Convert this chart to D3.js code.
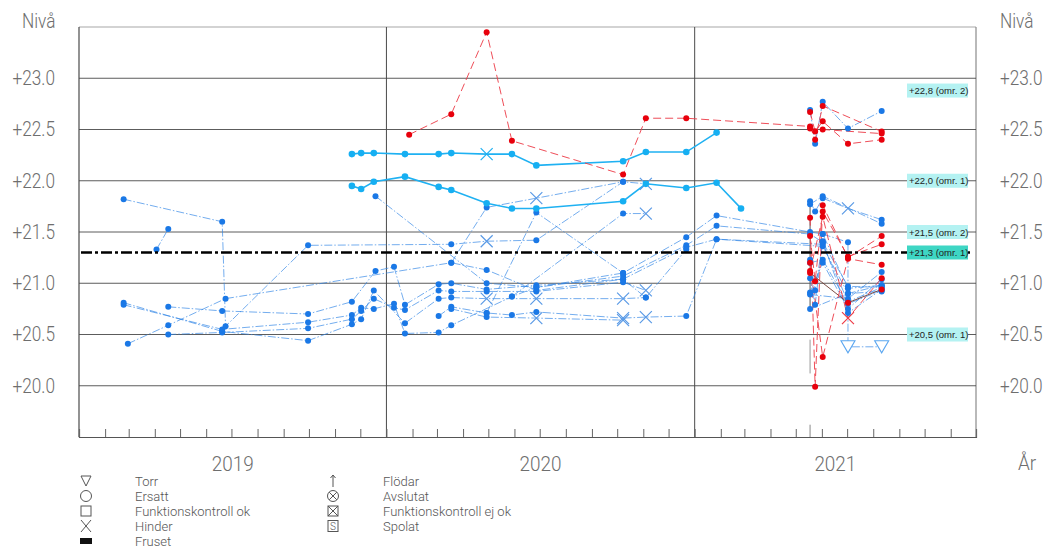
<!DOCTYPE html>
<html>
<head>
<meta charset="utf-8">
<script src="https://cdn.jsdelivr.net/npm/d3@7"></script>
<style>
  body { margin: 0; background: #fff; }
  svg { display: block; }
  text { font-family: Roboto, "DejaVu Sans Condensed", sans-serif; font-weight: 300; }
</style>
</head>
<body>
<div id="chart"></div>
<script>
// nivåer (m) per mätpunkt, [datum, nivå, status]  status: "x" = hinder, "t" = torr
var cyanTop = [["2019-11-21",22.26],["2019-12-02",22.27],["2019-12-17",22.27],["2020-01-23",22.26],["2020-03-03",22.26],["2020-03-18",22.27],["2020-04-29",22.26,"x"],["2020-05-29",22.26],["2020-06-27",22.15],["2020-10-08",22.19],["2020-11-04",22.28],["2020-12-22",22.28],["2021-01-27",22.47]];
var cyanMid = [["2019-11-21",21.95],["2019-12-02",21.92],["2019-12-17",21.99],["2020-01-23",22.04],["2020-03-03",21.94],["2020-03-18",21.91],["2020-04-29",21.78],["2020-05-29",21.73],["2020-06-27",21.73],["2020-10-08",21.80],["2020-11-04",21.97],["2020-12-22",21.93],["2021-01-27",21.98],["2021-02-25",21.73]];

var redMain = [["2020-01-28",22.45],["2020-03-18",22.65],["2020-04-29",23.45],["2020-05-29",22.39],["2020-10-08",22.06],["2020-11-04",22.61],["2020-12-22",22.61],["2021-05-18",22.53],["2021-05-24",22.40],["2021-06-02",22.73],["2021-08-11",22.48]];
var redB = [["2021-05-18",22.67],["2021-05-24",22.48],["2021-06-02",22.58],["2021-07-02",22.36],["2021-08-11",22.40]];
var redC = [["2021-05-18",22.51],["2021-06-02",22.50],["2021-08-11",22.46]];
var redD = [["2021-05-18",21.64],["2021-05-24",19.99],["2021-06-02",21.76],["2021-07-02",21.25],["2021-08-11",21.46]];
var redE = [["2021-05-18",21.46],["2021-05-24",21.02],["2021-06-02",21.70],["2021-07-02",21.26],["2021-08-11",21.38]];
var redF = [["2021-05-18",21.20],["2021-06-02",20.28],["2021-07-02",21.24],["2021-08-11",21.18]];
var redG = [["2021-05-18",21.12],["2021-06-02",21.65],["2021-07-02",20.66,"x"],["2021-08-11",21.05]];
var brownA = [["2021-05-18",21.10],["2021-07-02",20.81],["2021-08-11",20.94]];

var blueD = [["2019-02-23",21.82],["2019-06-20",21.60],["2019-06-24",20.58],["2019-09-30",21.37],["2020-03-18",21.38],["2020-04-29",21.41,"x"],["2020-06-27",21.42],["2020-10-08",21.99],["2020-11-04",21.97,"x"]];
var blueE = [["2019-04-03",21.33],["2019-04-17",21.53]];
var blueF = [["2019-02-28",20.41],["2019-04-17",20.59],["2019-06-24",20.85],["2020-03-18",21.20],["2020-04-29",21.13],["2020-06-27",20.93],["2020-10-08",21.04],["2020-12-22",21.35],["2021-01-27",21.43],["2021-06-02",21.36],["2021-07-02",20.90],["2021-08-11",20.92]];
var blueG = [["2019-02-23",20.81],["2019-06-20",20.53],["2019-09-30",20.44],["2019-11-21",20.60],["2019-12-02",20.65],["2019-12-17",20.93],["2020-01-23",20.61],["2020-03-03",20.85],["2020-03-18",20.86],["2020-04-29",20.85,"x"],["2020-06-27",20.85,"x"],["2020-10-08",20.85,"x"],["2020-11-04",20.86]];
var blueH = [["2019-02-23",20.79],["2019-06-20",20.55],["2019-09-30",20.62],["2019-11-21",20.69],["2019-12-02",20.76],["2019-12-17",20.75],["2020-01-10",20.80],["2020-01-23",20.51],["2020-03-03",20.52],["2020-03-18",20.59],["2020-05-29",20.87],["2020-06-27",20.96],["2020-10-08",21.07],["2020-12-22",21.37],["2021-01-27",21.56],["2021-05-18",21.48],["2021-06-02",21.40]];
var blueJ = [["2019-04-17",20.77],["2019-06-20",20.73],["2019-09-30",20.70],["2019-11-21",20.82],["2019-12-19",21.12],["2020-01-10",21.16],["2020-01-23",20.79],["2020-03-03",20.99],["2020-03-18",21.00],["2020-04-29",20.94],["2020-06-27",20.98],["2020-10-08",21.04],["2020-11-04",20.86],["2020-12-22",21.33]];
var blueT = [["2019-04-17",20.50],["2019-06-20",20.52],["2019-09-30",20.56],["2019-11-21",20.65],["2019-12-02",20.73],["2019-12-17",20.85],["2020-01-10",20.76],["2020-01-23",20.74],["2020-03-03",20.93],["2020-03-18",20.92],["2020-04-29",20.92],["2020-06-27",20.92],["2020-10-08",21.01],["2020-11-04",20.93,"x"]];
var blueP = [["2019-12-19",21.85],["2020-04-29",21.00],["2020-06-27",20.96],["2020-10-08",21.10],["2020-12-22",21.45],["2021-01-27",21.66],["2021-05-18",21.50],["2021-06-02",21.48],["2021-07-02",20.95],["2021-08-11",20.98]];
var blueQ = [["2020-03-18",21.20],["2020-04-29",21.74],["2020-06-27",21.83,"x"],["2020-10-08",21.99]];
var blueR = [["2020-04-29",20.71],["2020-06-27",21.69],["2020-10-08",21.10]];
var blueS = [["2020-05-29",20.87],["2020-10-08",21.68],["2020-11-04",21.68,"x"]];
var blueL5 = [["2020-03-03",20.68],["2020-03-18",20.77],["2020-04-29",20.71],["2020-05-29",20.69],["2020-06-27",20.72],["2020-10-08",20.66,"x"],["2020-11-04",20.67,"x"],["2020-12-22",20.68],["2021-01-27",21.43],["2021-06-02",21.38],["2021-07-02",20.82],["2021-08-11",20.96]];
var blueL6 = [["2020-03-18",20.75],["2020-04-29",20.67],["2020-06-27",20.66,"x"],["2020-10-08",20.64,"x"]];

var blue21a = [["2021-05-18",22.69],["2021-05-24",22.36],["2021-06-02",22.77],["2021-07-02",22.51],["2021-08-11",22.68]];
var blue21b = [["2021-05-18",21.80],["2021-05-24",21.70],["2021-06-02",21.83],["2021-07-02",21.73,"x"],["2021-08-11",21.62]];
var blue21c = [["2021-05-18",21.77],["2021-06-02",21.85],["2021-08-11",21.58]];
var blue21d = [["2021-05-18",21.23],["2021-05-24",20.93],["2021-06-02",21.40],["2021-07-02",20.97],["2021-08-11",20.96]];
var blue21e = [["2021-05-18",21.20],["2021-06-02",21.23],["2021-07-02",20.80],["2021-08-11",20.93]];
var blue21f = [["2021-05-18",21.05],["2021-05-24",20.79],["2021-06-02",21.41],["2021-07-02",20.71],["2021-08-11",20.94]];
var blue21g = [["2021-05-18",20.91],["2021-06-02",21.20],["2021-07-02",20.75],["2021-08-11",21.04]];
var blue21h = [["2021-05-18",20.89],["2021-07-02",20.85],["2021-08-11",21.11]];
var blue21i = [["2021-05-18",20.75],["2021-07-02",20.90],["2021-08-11",20.98]];
var blue21torr = [["2021-06-02",21.48],["2021-07-02",21.40],["2021-07-02",20.38,"t"],["2021-08-11",20.38,"t"]];

var series = [
  {kind: "blue", data: blueD}, {kind: "blue", data: blueE}, {kind: "blue", data: blueF},
  {kind: "blue", data: blueG}, {kind: "blue", data: blueH}, {kind: "blue", data: blueJ},
  {kind: "blue", data: blueT}, {kind: "blue", data: blueP}, {kind: "blue", data: blueQ},
  {kind: "blue", data: blueR}, {kind: "blue", data: blueS}, {kind: "blue", data: blueL5},
  {kind: "blue", data: blueL6}, {kind: "blue", data: blue21a}, {kind: "blue", data: blue21b},
  {kind: "blue", data: blue21c}, {kind: "blue", data: blue21d}, {kind: "blue", data: blue21e},
  {kind: "blue", data: blue21f}, {kind: "blue", data: blue21g}, {kind: "blue", data: blue21h},
  {kind: "blue", data: blue21i}, {kind: "blue", data: blue21torr},
  {kind: "cyan", data: cyanTop}, {kind: "cyan", data: cyanMid},
  {kind: "brown", data: brownA},
  {kind: "red", data: redMain}, {kind: "red", data: redB}, {kind: "red", data: redC},
  {kind: "red", data: redD}, {kind: "red", data: redE}, {kind: "red", data: redF}, {kind: "red", data: redG}
];

// gränsnivåer till höger
var levelValues = [22.8, 22.0, 21.5, 21.3, 20.5];
var levelLabels = ["+22,8 (omr. 2)", "+22,0 (omr. 1)", "+21,5 (omr. 2)", "+21,3 (omr. 1)", "+20,5 (omr. 1)"];
var levelLabelAt = [22.88, 22.0, 21.5, 21.3, 20.5];
var thresholdLevel = 21.3;

var yTicks = [20.0, 20.5, 21.0, 21.5, 22.0, 22.5, 23.0];
var years = [2019, 2020, 2021];
var todayDate = "2021-05-18";

var legendLeft = ["Torr", "Ersatt", "Funktionskontroll ok", "Hinder", "Fruset"];
var legendLeftSym = ["torr", "ersatt", "fkok", "hinder", "fruset"];
var legendRight = ["Flödar", "Avslutat", "Funktionskontroll ej ok", "Spolat"];
var legendRightSym = ["flodar", "avslutat", "fkejok", "spolat"];

var width = 1054, height = 551;
var margin = {top: 27, right: 78, bottom: 114, left: 79};

var parse = d3.timeParse("%Y-%m-%d");
var x = d3.scaleTime()
    .domain([new Date(2019, 0, 1), new Date(2021, 11, 1)])
    .range([margin.left, width - margin.right]);
var y = d3.scaleLinear()
    .domain([19.5, 23.5])
    .range([height - margin.bottom, margin.top]);

var svg = d3.select("#chart").append("svg")
    .attr("width", width)
    .attr("height", height);

var gridColor = "#4a4a4a", labelColor = "#6e6e6e";

// CAD-typsnittet är smalt: tryck ihop texten
function squeeze(sel, k) {
  sel.each(function() {
    var w = this.getComputedTextLength();
    d3.select(this).attr("textLength", w * k).attr("lengthAdjust", "spacingAndGlyphs");
  });
}

// frame
svg.append("line").attr("x1", x.range()[0]).attr("x2", x.range()[1]).attr("y1", y(23.5)).attr("y2", y(23.5))
    .attr("stroke", "#a8a8a8").attr("stroke-width", 1.2);
svg.append("line").attr("x1", x.range()[1]).attr("x2", x.range()[1]).attr("y1", y(23.5)).attr("y2", y(19.5))
    .attr("stroke", "#8a8a8a").attr("stroke-width", 1.2);
svg.append("line").attr("x1", x.range()[0]).attr("x2", x.range()[0]).attr("y1", y(23.5)).attr("y2", y(19.5))
    .attr("stroke", gridColor).attr("stroke-width", 1.2);

// horizontal grid
svg.append("g").selectAll("line")
    .data(yTicks)
    .enter().append("line")
    .attr("x1", x.range()[0]).attr("x2", x.range()[1])
    .attr("y1", function(d) { return y(d); }).attr("y2", function(d) { return y(d); })
    .attr("stroke", gridColor).attr("stroke-width", 0.9);

// year lines
svg.append("g").selectAll("line")
    .data(x.ticks(d3.timeYear.every(1)).filter(function(d) { return +d > +x.domain()[0]; }))
    .enter().append("line")
    .attr("x1", function(d) { return x(d); }).attr("x2", function(d) { return x(d); })
    .attr("y1", y(23.5)).attr("y2", y(19.5))
    .attr("stroke", gridColor).attr("stroke-width", 1);

// month ticks on bottom axis
var xAxis = d3.axisBottom(x)
    .ticks(d3.timeMonth.every(1))
    .tickSize(-8)
    .tickFormat("");
var gx = svg.append("g")
    .attr("transform", "translate(0," + y(19.5) + ")")
    .call(xAxis);
gx.select(".domain").attr("stroke", "#555").attr("stroke-width", 1.2);
gx.selectAll(".tick line").attr("stroke", "#666");

// today marker
var tx = x(parse(todayDate));
[[21.82, 20.75, "#555"], [20.45, 20.12, "#999"], [19.62, 19.5, "#888"]].forEach(function(s) {
  svg.append("line")
    .attr("x1", tx).attr("x2", tx)
    .attr("y1", y(s[0])).attr("y2", y(s[1]))
    .attr("stroke", s[2]).attr("stroke-width", 1);
});

// year labels, centred on visible part of each year
var yl = svg.append("g").selectAll("text")
    .data(years)
    .enter().append("text")
    .attr("x", function(d) {
      var a = Math.max(+new Date(d, 0, 1), +x.domain()[0]);
      var b = Math.min(+new Date(d + 1, 0, 1), +x.domain()[1]);
      return x(new Date((a + b) / 2));
    })
    .attr("y", 471)
    .attr("text-anchor", "middle")
    .attr("font-size", 21)
    .attr("fill", labelColor)
    .text(function(d) { return d; });
squeeze(yl, 0.9);

var ar = svg.append("text").attr("x", 1018).attr("y", 470).attr("font-size", 21).attr("fill", labelColor).text("År");
squeeze(ar, 0.9);

// left and right level labels
var yAxisL = d3.axisLeft(y).tickValues(yTicks).tickSize(0).tickPadding(24)
    .tickFormat(function(d) { return "+" + d.toFixed(1); });
var yAxisR = d3.axisRight(y).tickValues(yTicks).tickSize(0).tickPadding(24)
    .tickFormat(function(d) { return "+" + d.toFixed(1); });
[[yAxisL, x.range()[0]], [yAxisR, x.range()[1]]].forEach(function(p) {
  var g = svg.append("g").attr("transform", "translate(" + p[1] + ",0)").call(p[0]);
  g.select(".domain").remove();
  var t = g.selectAll("text").attr("font-size", 20).attr("fill", labelColor)
    .style("font-family", 'Roboto, "DejaVu Sans Condensed", sans-serif').style("font-weight", 300);
  squeeze(t, 0.86);
});
var nv = svg.selectAll("text.niva")
    .data([22, 1000])
    .enter().append("text")
    .attr("class", "niva")
    .attr("x", function(d) { return d; }).attr("y", 28)
    .attr("font-size", 20).attr("fill", labelColor).text("Nivå");
squeeze(nv, 0.86);

// data
var line = d3.line()
    .x(function(d) { return x(parse(d[0])); })
    .y(function(d) { return y(d[1]); });

var styles = {
  blue:  {stroke: "#2f84e6", width: 0.9, dash: "8,2,1.5,2", opacity: 0.75, dot: "#1a78e6"},
  cyan:  {stroke: "#1fb1f2", width: 1.6, dash: null, opacity: 1, dot: "#16aff2"},
  red:   {stroke: "#ec3a46", width: 1, dash: "8,4", opacity: 0.9, dot: "#e8000c"},
  brown: {stroke: "#6e3a30", width: 1, dash: null, opacity: 0.9, dot: "#e8000c"}
};

series.forEach(function(s) {
  var st = styles[s.kind];
  svg.append("path")
    .datum(s.data)
    .attr("d", line)
    .attr("fill", "none")
    .attr("stroke", st.stroke)
    .attr("stroke-width", st.width)
    .attr("stroke-dasharray", st.dash)
    .attr("opacity", st.opacity);
});

series.forEach(function(s) {
  var st = styles[s.kind];
  var g = svg.append("g");
  g.selectAll("circle")
    .data(s.data.filter(function(d) { return !d[2]; }))
    .enter().append("circle")
    .attr("cx", function(d) { return x(parse(d[0])); })
    .attr("cy", function(d) { return y(d[1]); })
    .attr("r", s.kind == "cyan" ? 3.3 : 3)
    .attr("fill", st.dot);
  g.selectAll("path.hinder")
    .data(s.data.filter(function(d) { return d[2] == "x"; }))
    .enter().append("path")
    .attr("class", "hinder")
    .attr("transform", function(d) { return "translate(" + x(parse(d[0])) + "," + y(d[1]) + ")"; })
    .attr("d", "M-6,-6L6,6M-6,6L6,-6")
    .attr("stroke", s.kind == "red" ? "#ec3a46" : (s.kind == "cyan" ? "#1fb1f2" : "#5a9ae6"))
    .attr("stroke-width", 1.2)
    .attr("fill", "none");
  g.selectAll("path.torr")
    .data(s.data.filter(function(d) { return d[2] == "t"; }))
    .enter().append("path")
    .attr("class", "torr")
    .attr("transform", function(d) { return "translate(" + x(parse(d[0])) + "," + y(d[1]) + ")"; })
    .attr("d", "M-7,-6L7,-6L0,6Z")
    .attr("stroke", "#5aa6f0")
    .attr("stroke-width", 1.1)
    .attr("fill", "#fff");
});

// threshold line
svg.append("line")
    .attr("x1", x.range()[0] + 2).attr("x2", x.range()[1] - 6)
    .attr("y1", y(thresholdLevel)).attr("y2", y(thresholdLevel))
    .attr("stroke", "#000").attr("stroke-width", 2.4)
    .attr("stroke-dasharray", "11,3,3,3");

// level boxes
var lv = svg.append("g").selectAll("g")
    .data(levelValues)
    .enter().append("g")
    .attr("transform", function(d, i) { return "translate(" + 907 + "," + y(levelLabelAt[i]) + ")"; });
lv.append("rect")
    .attr("x", 0).attr("y", -7).attr("width", 61).attr("height", 14)
    .attr("fill", function(d) { return d == thresholdLevel ? "#3ed6c4" : "#b4f2f2"; });
lv.append("text")
    .attr("x", 2).attr("y", 3.5)
    .attr("font-size", 9.5)
    .attr("fill", "#222")
    .style("font-family", '"Liberation Sans", Arial, sans-serif')
    .style("font-weight", 400)
    .text(function(d, i) { return levelLabels[i]; });

// legend
var symStroke = "#555";
function drawSym(g, type) {
  g.attr("fill", "none").attr("stroke", symStroke).attr("stroke-width", 1);
  if (type == "torr") g.append("path").attr("d", "M-5,-5L5,-5L0,5Z");
  if (type == "ersatt") g.append("circle").attr("r", 5.5);
  if (type == "fkok") g.append("rect").attr("x", -5).attr("y", -5).attr("width", 10).attr("height", 10);
  if (type == "hinder") g.append("path").attr("d", "M-5,-6L5,6M-5,6L5,-6");
  if (type == "fruset") g.append("rect").attr("x", -6).attr("y", -3).attr("width", 12).attr("height", 6).attr("fill", "#111").attr("stroke", "none");
  if (type == "flodar") g.append("path").attr("d", "M0,6L0,-6M-2.5,-3L0,-6L2.5,-3");
  if (type == "avslutat") { g.append("circle").attr("r", 5.5); g.append("path").attr("d", "M-3.8,-3.8L3.8,3.8M-3.8,3.8L3.8,-3.8"); }
  if (type == "fkejok") { g.append("rect").attr("x", -5).attr("y", -5).attr("width", 10).attr("height", 10); g.append("path").attr("d", "M-5,-5L5,5M-5,5L5,-5"); }
  if (type == "spolat") {
    g.append("rect").attr("x", -5).attr("y", -5.5).attr("width", 10).attr("height", 11);
    g.append("text").attr("x", 0).attr("y", 4).attr("text-anchor", "middle").attr("font-size", 10)
      .attr("fill", symStroke).attr("stroke", "none").text("S");
  }
}
var legendRowY = [481, 496, 511, 526, 541];
legendLeft.forEach(function(t, i) {
  drawSym(svg.append("g").attr("transform", "translate(86," + legendRowY[i] + ")"), legendLeftSym[i]);
  svg.append("text").attr("x", 135).attr("y", legendRowY[i] + 5).attr("font-size", 13).attr("fill", "#555").text(t);
});
legendRight.forEach(function(t, i) {
  drawSym(svg.append("g").attr("transform", "translate(333," + legendRowY[i] + ")"), legendRightSym[i]);
  svg.append("text").attr("x", 383).attr("y", legendRowY[i] + 5).attr("font-size", 13).attr("fill", "#555").text(t);
});
</script>
</body>
</html>
